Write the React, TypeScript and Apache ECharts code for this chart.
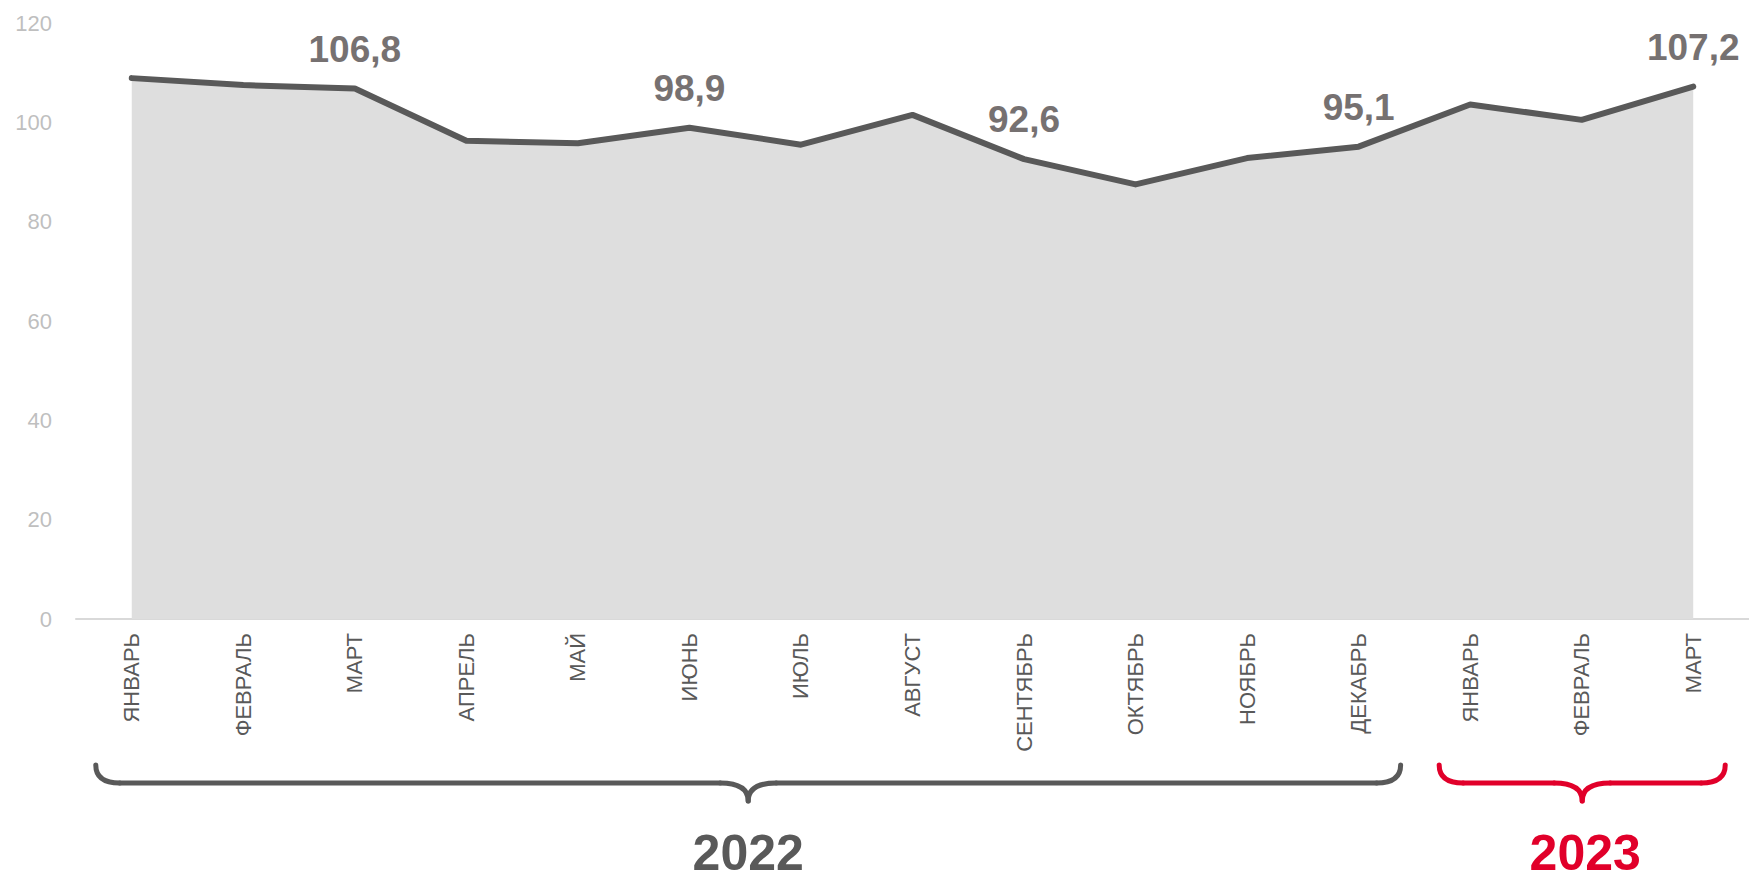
import React, { useEffect, useRef } from "react";
import * as echarts from "echarts";

const categories = [
  "ЯНВАРЬ", "ФЕВРАЛЬ", "МАРТ", "АПРЕЛЬ", "МАЙ", "ИЮНЬ", "ИЮЛЬ", "АВГУСТ",
  "СЕНТЯБРЬ", "ОКТЯБРЬ", "НОЯБРЬ", "ДЕКАБРЬ", "ЯНВАРЬ", "ФЕВРАЛЬ", "МАРТ",
];
const values = [108.9, 107.5, 106.8, 96.3, 95.8, 98.9, 95.5, 101.5, 92.6, 87.5, 92.8, 95.1, 103.6, 100.5, 107.2];
const labeledIndices = [2, 5, 8, 11, 14];

const yearLabels = ["2022", "2023"];
const yearStart = [0, 12];
const yearEnd = [11, 14];
const yearColors = ["#595959", "#E1002A"];

const FONT = "'Liberation Sans', Arial, sans-serif";

export default function App() {
  const ref = useRef<HTMLDivElement>(null);

  useEffect(() => {
    document.body.style.margin = "0";
    if (!ref.current) return;
    const chart = echarts.init(ref.current, undefined, { renderer: "svg" });

    const data = values.map((v, i) =>
      labeledIndices.includes(i) ? { value: v, label: { show: true } } : { value: v }
    );

    chart.setOption({
      animation: false,
      grid: { left: 76, right: 0, top: 23, bottom: 263, containLabel: false },
      xAxis: {
        type: "category",
        data: categories,
        boundaryGap: true,
        axisLine: { show: true, lineStyle: { color: "#d9d9d9", width: 2 } },
        axisTick: { show: false },
        axisLabel: {
          rotate: 90,
          color: "#595959",
          fontSize: 22,
          fontFamily: FONT,
          margin: 14,
          interval: 0,
        },
        splitLine: { show: false },
      },
      yAxis: {
        type: "value",
        min: 0,
        max: 120,
        interval: 20,
        axisLine: { show: false },
        axisTick: { show: false },
        splitLine: { show: false },
        axisLabel: { color: "#bfbfbf", fontSize: 22, fontFamily: FONT, margin: 24 },
      },
      series: [
        {
          type: "line",
          data,
          symbol: "circle",
          symbolSize: 2,
          showSymbol: true,
          itemStyle: { color: "rgba(0,0,0,0)" },
          lineStyle: { color: "#595959", width: 6, cap: "round", join: "round" },
          areaStyle: { color: "#dedede", opacity: 1 },
          label: {
            show: false,
            position: "top",
            distance: 20,
            fontSize: 37,
            fontWeight: "bold",
            fontFamily: FONT,
            color: "#767171",
            formatter: (p: any) => Number(p.value).toFixed(1).replace(".", ","),
          },
          emphasis: { disabled: true },
          z: 2,
        },
      ],
    });

    const yTop = 765;
    const yMid = 783;
    const yBot = 801;
    const rEnd = 24;
    const rMid = 28;
    const pads = [
      [36, 42],
      [31, 32],
    ];

    const elements: any[] = [];
    yearLabels.forEach((year, k) => {
      const xa = chart.convertToPixel({ xAxisIndex: 0 }, yearStart[k]) as number;
      const xb = chart.convertToPixel({ xAxisIndex: 0 }, yearEnd[k]) as number;
      const x0 = xa - pads[k][0];
      const x1 = xb + pads[k][1];
      const xc = (x0 + x1) / 2;
      const style = { stroke: yearColors[k], lineWidth: 5, fill: "none", lineCap: "round" };
      elements.push({
        type: "group",
        children: [
          { type: "bezierCurve", shape: { x1: x0, y1: yTop, cpx1: x0, cpy1: yMid, x2: x0 + rEnd, y2: yMid }, style },
          { type: "line", shape: { x1: x0 + rEnd, y1: yMid, x2: xc - rMid, y2: yMid }, style },
          { type: "bezierCurve", shape: { x1: xc - rMid, y1: yMid, cpx1: xc, cpy1: yMid, x2: xc, y2: yBot }, style },
          { type: "bezierCurve", shape: { x1: xc + rMid, y1: yMid, cpx1: xc, cpy1: yMid, x2: xc, y2: yBot }, style },
          { type: "line", shape: { x1: xc + rMid, y1: yMid, x2: x1 - rEnd, y2: yMid }, style },
          { type: "bezierCurve", shape: { x1: x1 - rEnd, y1: yMid, cpx1: x1, cpy1: yMid, x2: x1, y2: yTop }, style },
          {
            type: "text",
            x: xc + (k === 1 ? 3 : 0),
            y: 853,
            style: {
              text: year,
              fill: yearColors[k],
              font: `bold 50px ${FONT}`,
              textAlign: "center",
              textVerticalAlign: "middle",
            },
          },
        ],
      });
    });

    chart.setOption({ graphic: { elements } });

    return () => {
      chart.dispose();
    };
  }, []);

  return <div ref={ref} style={{ width: 1749, height: 882 }} />;
}
